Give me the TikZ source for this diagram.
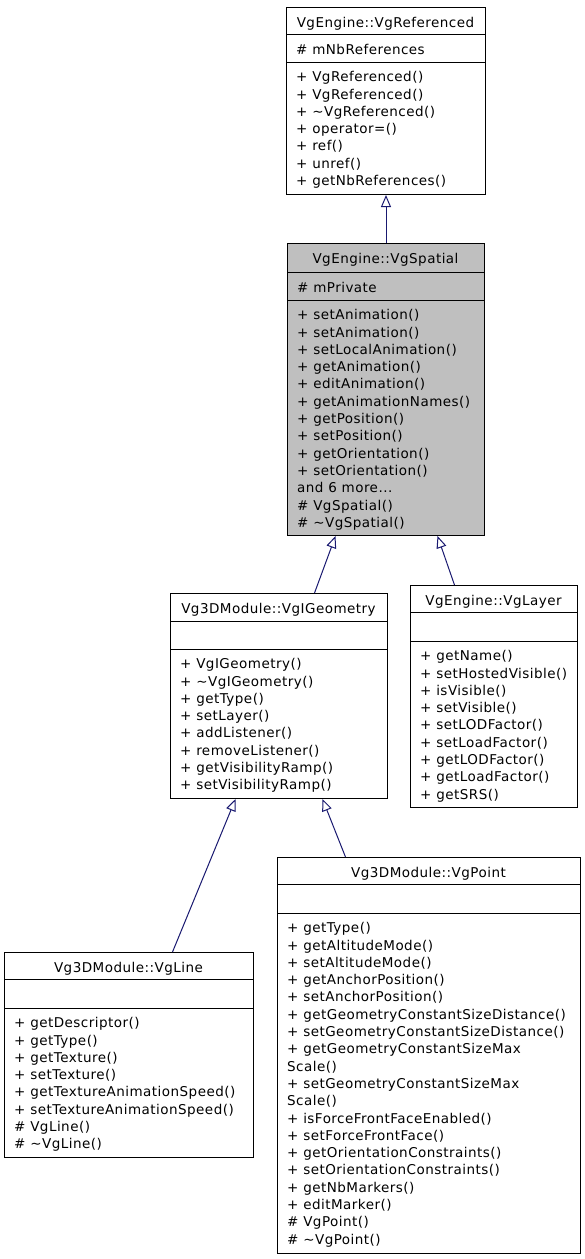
\documentclass[tikz,border=0pt]{standalone}
\usepackage{fontspec}
\setmainfont{DejaVu Sans}[LetterSpace=3.5]
\usepackage{tikz}
\usetikzlibrary{arrows.meta}
\definecolor{midnight}{RGB}{25,25,112}
\definecolor{classgrey}{RGB}{191,191,191}
\newcommand{\firstrow}{\rule{0pt}{13pt}}

\begin{document}
\begin{tikzpicture}[x=1pt,y=-1pt,
    font=\fontsize{13.5}{17.3}\selectfont,
    classbox/.style={draw,line width=1pt,anchor=north west,inner sep=0pt},
    classname/.style={anchor=base,inner sep=0pt},
    fieldrow/.style={anchor=base west,inner sep=0pt},
    members/.style={anchor=north west,inner sep=0pt,align=left},
    inherit/.style={draw=midnight,line width=1pt,-{Triangle[open,length=12pt,width=10pt]}}]
    \useasboundingbox (0,0) rectangle (584,1259);
    % VgReferenced
    \node[classbox,minimum width=199,minimum height=187] (referenced) at (286,7) {};
    \draw[line width=1pt] ([yshift=-27]referenced.north west) -- ([yshift=-27]referenced.north east);
    \draw[line width=1pt] ([yshift=-55]referenced.north west) -- ([yshift=-55]referenced.north east);
    \node[classname] (referencedname) at (385.5,27) {VgEngine::VgReferenced};
    \node[fieldrow] (referencedattr) at (296,54) {\# mNbReferences};
    \node[members] (referencedops) at (296,68.5) {\firstrow+ VgReferenced()\\+ VgReferenced()\\+ \textasciitilde VgReferenced()\\+ operator=()\\+ ref()\\+ unref()\\+ getNbReferences()};
    % VgSpatial
    \node[classbox,fill=classgrey,minimum width=197,minimum height=292] (spatial) at (287,243) {};
    \draw[line width=1pt] ([yshift=-29]spatial.north west) -- ([yshift=-29]spatial.north east);
    \draw[line width=1pt] ([yshift=-57]spatial.north west) -- ([yshift=-57]spatial.north east);
    \node[classname] (spatialname) at (385.5,263) {VgEngine::VgSpatial};
    \node[fieldrow] (spatialattr) at (297,292) {\# mPrivate};
    \node[members] (spatialops) at (297,306.5) {\firstrow+ setAnimation()\\+ setAnimation()\\+ setLocalAnimation()\\+ getAnimation()\\+ editAnimation()\\+ getAnimationNames()\\+ getPosition()\\+ setPosition()\\+ getOrientation()\\+ setOrientation()\\and 6 more...\\\# VgSpatial()\\\# \textasciitilde VgSpatial()};
    % VgIGeometry
    \node[classbox,minimum width=217,minimum height=205] (geometry) at (170,593) {};
    \draw[line width=1pt] ([yshift=-28]geometry.north west) -- ([yshift=-28]geometry.north east);
    \draw[line width=1pt] ([yshift=-56]geometry.north west) -- ([yshift=-56]geometry.north east);
    \node[classname] (geometryname) at (278.5,613) {Vg3DModule::VgIGeometry};
    \node[members] (geometryops) at (180,655.5) {\firstrow+ VgIGeometry()\\+ \textasciitilde VgIGeometry()\\+ getType()\\+ setLayer()\\+ addListener()\\+ removeListener()\\+ getVisibilityRamp()\\+ setVisibilityRamp()};
    % VgLayer
    \node[classbox,minimum width=167,minimum height=222] (layer) at (410,585) {};
    \draw[line width=1pt] ([yshift=-27]layer.north west) -- ([yshift=-27]layer.north east);
    \draw[line width=1pt] ([yshift=-56]layer.north west) -- ([yshift=-56]layer.north east);
    \node[classname] (layername) at (493.5,605) {VgEngine::VgLayer};
    \node[members] (layerops) at (420,647.5) {\firstrow+ getName()\\+ setHostedVisible()\\+ isVisible()\\+ setVisible()\\+ setLODFactor()\\+ setLoadFactor()\\+ getLODFactor()\\+ getLoadFactor()\\+ getSRS()};
    % VgLine
    \node[classbox,minimum width=249,minimum height=205] (line) at (4,952) {};
    \draw[line width=1pt] ([yshift=-27]line.north west) -- ([yshift=-27]line.north east);
    \draw[line width=1pt] ([yshift=-56]line.north west) -- ([yshift=-56]line.north east);
    \node[classname] (linename) at (128.5,972) {Vg3DModule::VgLine};
    \node[members] (lineops) at (14,1014.5) {\firstrow+ getDescriptor()\\+ getType()\\+ getTexture()\\+ setTexture()\\+ getTextureAnimationSpeed()\\+ setTextureAnimationSpeed()\\\# VgLine()\\\# \textasciitilde VgLine()};
    % VgPoint
    \node[classbox,minimum width=303,minimum height=396] (point) at (277,857) {};
    \draw[line width=1pt] ([yshift=-27]point.north west) -- ([yshift=-27]point.north east);
    \draw[line width=1pt] ([yshift=-56]point.north west) -- ([yshift=-56]point.north east);
    \node[classname] (pointname) at (428.5,877) {Vg3DModule::VgPoint};
    \node[members] (pointops) at (287,919.5) {\firstrow+ getType()\\+ getAltitudeMode()\\+ setAltitudeMode()\\+ getAnchorPosition()\\+ setAnchorPosition()\\+ getGeometryConstantSizeDistance()\\+ setGeometryConstantSizeDistance()\\+ getGeometryConstantSizeMax\\Scale()\\+ setGeometryConstantSizeMax\\Scale()\\+ isForceFrontFaceEnabled()\\+ setForceFrontFace()\\+ getOrientationConstraints()\\+ setOrientationConstraints()\\+ getNbMarkers()\\+ editMarker()\\\# VgPoint()\\\# \textasciitilde VgPoint()};
    % inheritance
    \draw[inherit] (spatial.north) -- (referenced.south);
    \draw[inherit] ([xshift=35.5]geometry.north) -- ([xshift=-50.5]spatial.south);
    \draw[inherit] ([xshift=-39.5]layer.north) -- ([xshift=51.5]spatial.south);
    \draw[inherit] ([xshift=43.5]line.north) -- ([xshift=-43.5]geometry.south);
    \draw[inherit] ([xshift=-83.5]point.north) -- ([xshift=43.5]geometry.south);
\end{tikzpicture}
\end{document}
